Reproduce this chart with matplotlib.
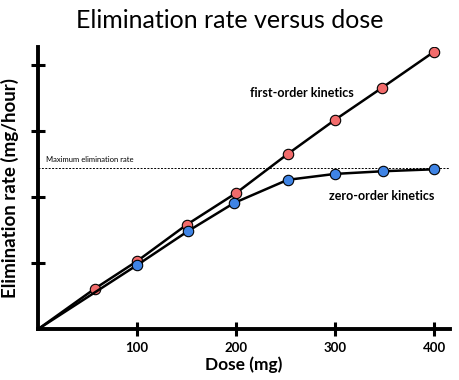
import matplotlib.pyplot as plt

# Data (y in axis tick units)
dose_first = [0, 57, 100, 150, 200, 252, 300, 347, 400]
rate_first = [0, 0.61, 1.03, 1.58, 2.06, 2.65, 3.17, 3.65, 4.2]

dose_zero = [0, 100, 151, 198, 252, 300, 348, 400]
rate_zero = [0, 0.97, 1.48, 1.91, 2.26, 2.35, 2.39, 2.42]

max_rate = 2.44
x_ticks = [100, 200, 300, 400]
y_ticks = [1, 2, 3, 4]

plt.rcParams['font.family'] = ['Lato', 'DejaVu Sans']

fig = plt.figure(figsize=(4.6, 3.8), dpi=100)
ax = fig.add_axes([0.083, 0.134, 0.895, 0.742])

ax.axhline(max_rate, color='black', linestyle=(0, (2, 1.5)), linewidth=0.7, zorder=1)
ax.text(8, max_rate + 0.07, 'Maximum elimination rate', fontsize=5.5, va='bottom')

ax.plot(dose_first, rate_first, color='black', linewidth=1.8, marker='o',
        markersize=7.5, markerfacecolor='#f26b6b', markeredgecolor='black',
        markeredgewidth=0.8, markevery=list(range(1, len(dose_first))), zorder=3)
ax.plot(dose_zero, rate_zero, color='black', linewidth=1.8, marker='o',
        markersize=7.5, markerfacecolor='#3f84e5', markeredgecolor='black',
        markeredgewidth=0.8, markevery=list(range(1, len(dose_zero))), zorder=3)

ax.text(214, 3.58, 'first-order kinetics', fontsize=9, fontweight='bold', ha='left', va='center')
ax.text(294, 2.01, 'zero-order kinetics', fontsize=9, fontweight='bold', ha='left', va='center')

ax.set_xlim(0, 416)
ax.set_ylim(0, 4.27)
ax.set_xticks(x_ticks)
ax.set_xticklabels([str(t) for t in x_ticks], fontsize=9.5, fontweight='bold')
ax.set_yticks(y_ticks)
ax.set_yticklabels([])
ax.tick_params(direction='inout', length=10, width=2.2, pad=4)

for side in ['top', 'right']:
    ax.spines[side].set_visible(False)
for side in ['left', 'bottom']:
    ax.spines[side].set_linewidth(2.8)

ax.set_xlabel('Dose (mg)', fontsize=12.5, fontweight='bold', labelpad=2)
ax.set_ylabel('Elimination rate (mg/hour)', fontsize=13.5, fontweight='bold', labelpad=5)

fig.text(0.5, 0.945, 'Elimination rate versus dose', fontsize=18, ha='center', va='center')

plt.savefig('out.png', dpi=100)
